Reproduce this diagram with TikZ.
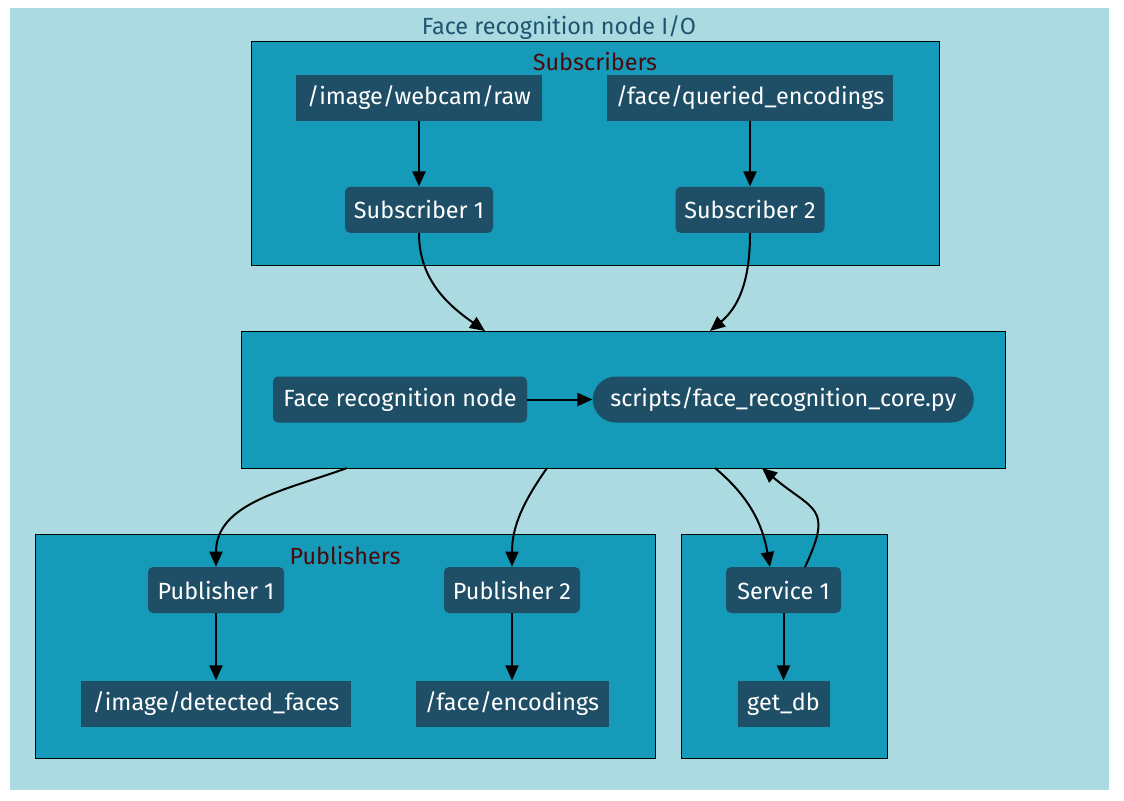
\documentclass[tikz,border=0pt]{standalone}
\usepackage{fontspec}
\setmainfont{Fira Sans}
\usetikzlibrary{arrows.meta,positioning}
\definecolor{outerbg}{HTML}{ABDBE0}
\definecolor{clusterbg}{HTML}{159AB9}
\definecolor{nodebg}{HTML}{1F4F67}
\definecolor{titleblue}{HTML}{1F5470}
\definecolor{labelred}{HTML}{4A0A0A}

\begin{document}
\begin{tikzpicture}[
    x=0.5pt, y=0.5pt,
    node distance=32.5pt,
    every node/.style={font=\fontsize{11.7}{14}\selectfont},
    cluster/.style={draw=black, line width=0.5pt, fill=clusterbg, minimum height=112pt, inner sep=0pt},
    topic/.style={fill=nodebg, text=white, minimum height=23pt, inner sep=0pt},
    rosnode/.style={topic, rounded corners=2.5pt},
    script/.style={topic, rounded corners=11.5pt},
    flow/.style={-{Triangle[length=7.5pt,width=6.5pt]}, line width=1pt}
]
\fill[white] (0,0) rectangle (1124,-800);
\useasboundingbox (0,0) rectangle (1124,-800);
\fill[outerbg] (10,-8) rectangle (1109,-790);
\node[text=titleblue] (title) at (559,-28) {Face recognition node I/O};

% subscribers
\node[cluster, minimum width=344pt] (subs) at (595,-153) {};
\node[text=labelred] (substitle) at (595,-62) {Subscribers};
\node[topic, minimum width=123pt] (webcam) at (419,-98) {/image/webcam/raw};
\node[topic, minimum width=143pt] (queried) at (750,-98) {/face/queried\_encodings};
\node[rosnode, minimum width=74pt, below=of webcam] (sub1) {Subscriber 1};
\node[rosnode, minimum width=74.5pt, below=of queried] (sub2) {Subscriber 2};

% core node
\node[cluster, minimum width=382pt, minimum height=68.5pt] (core) at (623,-399.5) {};
\node[rosnode, minimum width=127pt] (facenode) at (400,-399.5) {Face recognition node};
\node[script, minimum width=190.5pt, right=of facenode] (script) {scripts/face\_recognition\_core.py};

% publishers and service
\node[cluster, minimum width=310pt] (pubs) at (345,-646) {};
\node[text=labelred] (pubstitle) at (345,-555) {Publishers};
\node[cluster, minimum width=103pt] (srv) at (784,-646) {};
\node[rosnode, minimum width=68pt] (pub1) at (216,-590) {Publisher 1};
\node[rosnode, minimum width=68pt] (pub2) at (512,-590) {Publisher 2};
\node[rosnode, minimum width=57.5pt] (service) at (783.5,-590) {Service 1};
\node[topic, minimum width=135pt, below=33.5pt of pub1] (detected) {/image/detected\_faces};
\node[topic, minimum width=96.5pt, below=33.5pt of pub2] (encodings) {/face/encodings};
\node[topic, minimum width=46pt, below=33.5pt of service] (getdb) {get\_db};

\coordinate (coreinA) at (485,-331);
\coordinate (coreinB) at (710,-331);
\coordinate (coreoutA) at (347,-468);
\coordinate (coreoutB) at (547,-468);
\coordinate (coreoutC) at (715,-468);
\coordinate (coreinC) at (762,-468);
\coordinate (srvin) at (770,-567);
\coordinate (srvout) at (805,-567);

\draw[flow] (webcam) -- (sub1);
\draw[flow] (queried) -- (sub2);
\draw[flow] (sub1.south) to[out=-90, in=145] (coreinA);
\draw[flow] (sub2.south) to[out=-90, in=40] (coreinB);
\draw[flow] (facenode) -- (script);
\draw[flow] (coreoutA) to[out=-160, in=90] (pub1.north);
\draw[flow] (coreoutB) to[out=-125, in=90] (pub2.north);
\draw[flow] (coreoutC) to[out=-40, in=100] (srvin);
\draw[flow] (srvout) to[out=65, in=-40, looseness=1.6] (coreinC);
\draw[flow] (pub1) -- (detected);
\draw[flow] (pub2) -- (encodings);
\draw[flow] (service) -- (getdb);
\end{tikzpicture}
\end{document}
